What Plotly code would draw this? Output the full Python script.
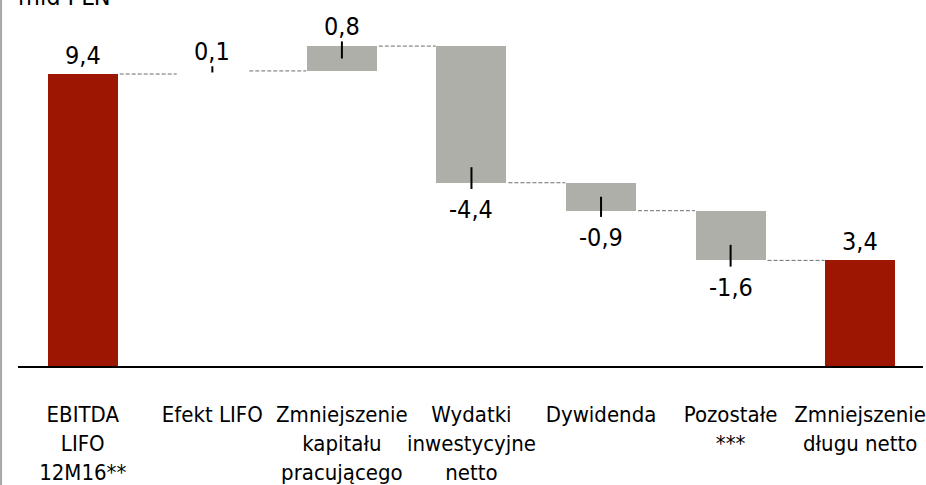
import plotly.graph_objects as go

categories = ["EBITDA<br>LIFO<br>12M16**", "Efekt LIFO", "Zmniejszenie<br>kapitału<br>pracującego",
              "Wydatki<br>inwestycyjne<br>netto", "Dywidenda", "Pozostałe<br>***", "Zmniejszenie<br>długu netto"]
values = [9.4, 0.1, 0.8, -4.4, -0.9, -1.6, 3.4]
kinds = ["total", "delta", "delta", "delta", "delta", "delta", "total"]
labels = ["9,4", "0,1", "0,8", "-4,4", "-0,9", "-1,6", "3,4"]

RED = "#9C1602"
GRAY = "#AFAFAA"
FONT = "Liberation Sans Narrow, Arial Narrow, DejaVu Sans Condensed, sans-serif"
BW = 0.54
VAL_SIZE = 25
CAT_SIZE = 22

xs = list(range(len(categories)))
bases, tops, colors = [], [], []
running = 0.0
for v, k in zip(values, kinds):
    if k == "total":
        running = v
        bases.append(0.0)
        tops.append(v)
        colors.append(RED)
    else:
        bases.append(running)
        running = running + v
        tops.append(running)
        colors.append(GRAY)
colors[1] = "rgba(0,0,0,0)"  # Efekt LIFO bar is not drawn in the reference

fig = go.Figure()
fig.add_trace(go.Bar(
    x=xs, y=[t - b for t, b in zip(tops, bases)], base=bases, width=BW,
    marker=dict(color=colors, line=dict(width=0)), hoverinfo="skip", showlegend=False))

shapes = []
for i in range(len(xs) - 1):
    level = tops[i]
    shapes.append(dict(type="line", xref="x", yref="y", x0=xs[i] + BW / 2 + 0.015, x1=xs[i + 1] - BW / 2 - 0.005,
                       y0=level, y1=level, line=dict(color="#6E6E6E", width=1, dash="4px,2px")))

annotations = []
for i, (v, k) in enumerate(zip(values, kinds)):
    end = tops[i]
    fnt = dict(size=VAL_SIZE, color="black", family=FONT)
    if k == "total":
        annotations.append(dict(x=xs[i], y=end, xref="x", yref="y", text=labels[i], showarrow=False,
                                yanchor="bottom", yshift=2, font=fnt))
    else:
        a = min(0.5, abs(v) / 2)
        if v > 0:
            y0, y1 = end - a, end + 0.15
            annotations.append(dict(x=xs[i], y=y1, xref="x", yref="y", text=labels[i], showarrow=False,
                                    yanchor="bottom", yshift=-2, font=fnt))
        else:
            y0, y1 = end + a, end - 0.2
            annotations.append(dict(x=xs[i], y=y1, xref="x", yref="y", text=labels[i], showarrow=False,
                                    yanchor="top", yshift=-4, font=fnt))
        shapes.append(dict(type="line", xref="x", yref="y", x0=xs[i], x1=xs[i], y0=y0, y1=y1,
                           line=dict(color="black", width=2)))

shapes.append(dict(type="line", xref="paper", yref="paper", x0=-17 / 908, x1=-17 / 908, y0=-119 / 366, y1=1,
                   line=dict(color="#A6A6A6", width=2)))

annotations.append(dict(x=-2 / 908, y=(366 - 13) / 366, xref="paper", yref="paper", text="mld PLN",
                        showarrow=False, xanchor="left", yanchor="bottom",
                        font=dict(size=VAL_SIZE, color="black", family=FONT)))

fig.update_layout(
    width=926, height=485,
    margin=dict(l=18, r=0, t=0, b=119),
    paper_bgcolor="white", plot_bgcolor="white",
    shapes=shapes, annotations=annotations,
    bargap=0,
    xaxis=dict(range=[-0.5, 6.485], tickvals=xs, ticktext=categories, showgrid=False, zeroline=False,
               showline=True, linecolor="black", linewidth=2, ticks="", ticklabelstandoff=28,
               ticklabeloverflow="allow",
               tickfont=dict(size=CAT_SIZE, color="black", family=FONT), tickangle=0),
    yaxis=dict(range=[0, 366 / 31.06], showgrid=False, zeroline=False, showticklabels=False, showline=False),
)

fig.write_html("out.html", config={"displayModeBar": False},
               post_script="document.body.style.margin='0';document.body.style.overflow='hidden';")
